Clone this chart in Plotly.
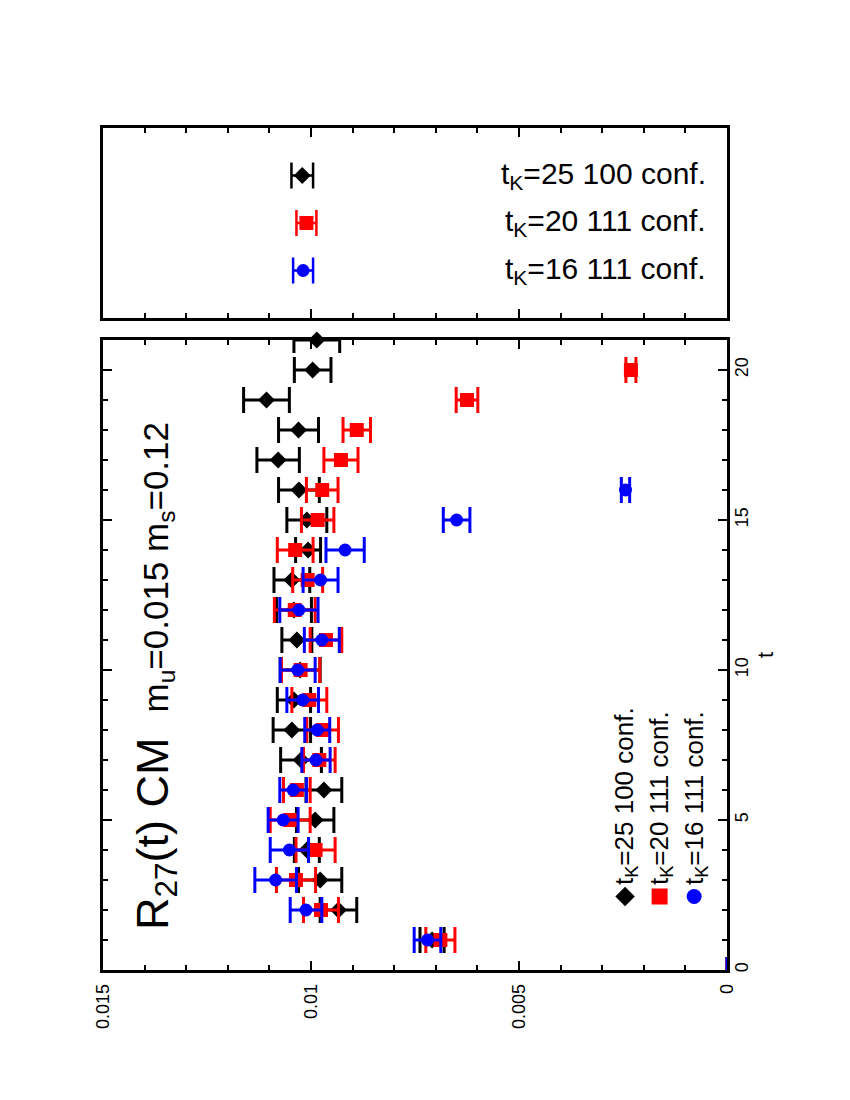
import plotly.graph_objects as go

t_25 = list(range(0, 22))
r_25 = [0, 0.00709, 0.00934, 0.00978, 0.01010, 0.00990, 0.00969, 0.01024, 0.01046, 0.01041,
        0.01026, 0.01034, 0.01041, 0.01046, 0.01007, 0.01010, 0.01029, 0.01079, 0.01030,
        0.01107, 0.00996, 0.00986]
e_25 = [0, 0.00029, 0.00044, 0.00052, 0.00030, 0.00045, 0.00043, 0.00049, 0.00045, 0.00040,
        0.00048, 0.00036, 0.00042, 0.00043, 0.00030, 0.00048, 0.00049, 0.00051, 0.00048,
        0.00055, 0.00044, 0.00055]

t_20 = list(range(0, 21))
r_20 = [0, 0.00689, 0.00976, 0.01036, 0.00989, 0.01050, 0.01034, 0.00980, 0.00972, 0.01004,
        0.01025, 0.00964, 0.01039, 0.01008, 0.01038, 0.00984, 0.00973, 0.00928, 0.00890,
        0.00625, 0.00231]
e_20 = [0, 0.00035, 0.00042, 0.00047, 0.00047, 0.00048, 0.00032, 0.00038, 0.00038, 0.00042,
        0.00046, 0.00038, 0.00049, 0.00036, 0.00043, 0.00039, 0.00038, 0.00041, 0.00033,
        0.00026, 0.00012]

t_16 = list(range(0, 17))
r_16 = [0, 0.00720, 0.01012, 0.01085, 0.01052, 0.01067, 0.01043, 0.00988, 0.00985, 0.01020,
        0.01032, 0.00974, 0.01029, 0.00977, 0.00918, 0.00650, 0.00244]
e_16 = [0, 0.00032, 0.00038, 0.00050, 0.00046, 0.00036, 0.00032, 0.00034, 0.00030, 0.00038,
        0.00042, 0.00042, 0.00046, 0.00042, 0.00046, 0.00032, 0.00010]

labels = ["t<sub>K</sub>=25 100 conf.", "t<sub>K</sub>=20 111 conf.", "t<sub>K</sub>=16 111 conf."]
colors = ["black", "red", "blue"]
symbols = ["diamond", "square", "circle"]
sizes = [13, 14, 13]

# legend keys (top box and the rotated one inside the plot)
key_r = [0.01021, 0.01011, 0.01019]
key_e = [0.00026, 0.00024, 0.00024]
key_row = [3, 2, 1]
inner_key_r = [0.00245, 0.00162, 0.00079]
inner_key_t = 2.45

FONT = "Liberation Sans, Arial, sans-serif"

fig = go.Figure()

series = [(t_25, r_25, e_25), (t_20, r_20, e_20), (t_16, r_16, e_16)]
for (tt, rr, ee), col, sym, sz in zip(series, colors, symbols, sizes):
    fig.add_trace(go.Scatter(
        x=rr, y=tt, mode="markers", cliponaxis=False,
        marker=dict(symbol=sym, color=col, opacity=1,
                    size=[0 if v == 0 else sz for v in rr], line=dict(width=0)),
        error_x=dict(type="data", array=ee, visible=True, color=col, thickness=3, width=13),
        xaxis="x", yaxis="y", showlegend=False,
    ))

# rotated key inside the plot
for i in range(3):
    fig.add_trace(go.Scatter(
        x=[inner_key_r[i]], y=[inner_key_t], mode="markers", cliponaxis=False,
        marker=dict(symbol=symbols[i], color=colors[i], size=sizes[i] + 2, line=dict(width=0)),
        xaxis="x", yaxis="y", showlegend=False,
    ))

# top legend box
for i in range(3):
    fig.add_trace(go.Scatter(
        x=[key_r[i]], y=[key_row[i]], mode="markers", cliponaxis=False,
        marker=dict(symbol=symbols[i], color=colors[i], size=sizes[i], line=dict(width=0)),
        error_x=dict(type="data", array=[key_e[i]], visible=True, color=colors[i], thickness=2.5, width=13),
        xaxis="x2", yaxis="y2", showlegend=False,
    ))

axis_common = dict(showline=True, linecolor="black", linewidth=2.5, mirror="ticks",
                   ticks="inside", tickcolor="black", tickwidth=2, showgrid=False, zeroline=False,
                   automargin=False)
minor_r = dict(dtick=0.001, ticklen=5, ticks="inside", tickcolor="black", tickwidth=2, showgrid=False)
minor_t = dict(dtick=1, ticklen=5, ticks="inside", tickcolor="black", tickwidth=2, showgrid=False)

fig.update_layout(
    template="none",
    width=850, height=1100,
    margin=dict(l=0, r=0, t=0, b=0, autoexpand=False),
    paper_bgcolor="white", plot_bgcolor="white",
    font=dict(family=FONT, color="black"),
    xaxis=dict(domain=[103 / 850, 727 / 850], range=[0.015, 0], dtick=0.005, tick0=0,
               ticklen=9, minor=minor_r, tickangle=-90, tickfont=dict(size=18),
               ticklabelstandoff=4, anchor="y", **axis_common),
    yaxis=dict(domain=[1 - 970 / 1100, 1 - 340 / 1100], range=[0, 21], dtick=5, tick0=0,
               ticklen=9, minor=minor_t, side="right", tickangle=-90, tickfont=dict(size=18),
               ticklabelstandoff=-3, anchor="x", **axis_common),
    xaxis2=dict(domain=[103 / 850, 727 / 850], range=[0.015, 0], dtick=0.005, tick0=0,
                ticklen=9, minor=minor_r, showticklabels=False, anchor="y2", **axis_common),
    yaxis2=dict(domain=[1 - 318 / 1100, 1 - 128 / 1100], range=[0, 4], showline=True, linecolor="black",
                linewidth=2.5, mirror=True, ticks="", showticklabels=False, showgrid=False,
                zeroline=False, anchor="x2", automargin=False),
)

# title line inside the plot, rotated
fig.add_annotation(
    text="R<sub>27</sub>(t) CM&nbsp;&nbsp;<span style='font-size:35px'>m<sub>u</sub>=0.015 m<sub>s</sub>=0.12</span>",
    xref="paper", yref="paper", x=155 / 850, y=1 - 932 / 1100, xanchor="center", yanchor="bottom",
    textangle=-90, showarrow=False, font=dict(size=45, family=FONT),
)

# rotated key labels
for i, xc in enumerate([625, 660, 695]):
    fig.add_annotation(
        text=labels[i], xref="paper", yref="paper", x=xc / 850, y=1 - 887 / 1100,
        xanchor="center", yanchor="bottom", textangle=-90, showarrow=False,
        font=dict(size=26, family=FONT),
    )

# top box labels
for i in range(3):
    fig.add_annotation(
        text=labels[i], xref="paper", yref="y2", x=708 / 850, y=key_row[i],
        xanchor="right", yanchor="middle", showarrow=False, font=dict(size=30, family=FONT),
    )

# t axis title
fig.add_annotation(
    text="t", xref="paper", yref="paper", x=765 / 850, y=1 - 655 / 1100,
    xanchor="center", yanchor="middle", textangle=-90, showarrow=False, font=dict(size=22, family=FONT),
)

fig.write_html("out.html", config={"displayModeBar": False},
               post_script="document.body.style.margin='0';")
